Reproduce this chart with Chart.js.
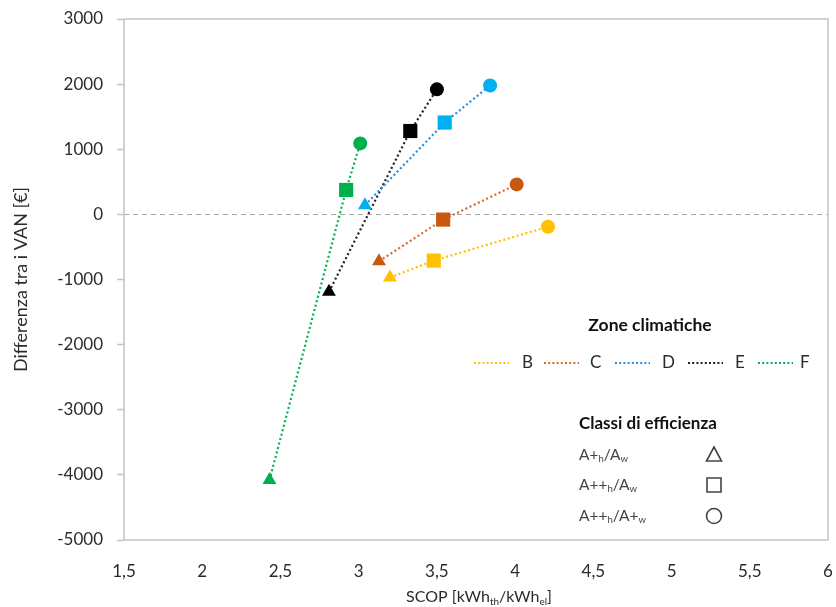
<!DOCTYPE html>
<html>
<head>
<meta charset="utf-8">
<script src="https://cdn.jsdelivr.net/npm/chart.js@4.4.1/dist/chart.umd.min.js"></script>
<style>
  html, body { margin: 0; padding: 0; background: #fff; }
  #wrap { width: 836px; height: 607px; position: relative; }
</style>
</head>
<body>
<div id="wrap"><canvas id="grafico"></canvas></div>
<script>
// ===== Dati =====
const zone = ['B', 'C', 'D', 'E', 'F'];
const coloriMarker = ['#FFC000', '#C9580F', '#00B0F0', '#000000', '#00B050'];
const coloriLinea = ['#FFC000', '#D9692A', '#2E8AD8', '#222222', '#00B050'];

// ordine dei punti: A+h/Aw, A++h/Aw, A++h/A+w
const scopB = [3.20, 3.48, 4.21];
const vanB  = [-970, -710, -190];
const scopC = [3.13, 3.54, 4.01];
const vanC  = [-720, -80, 460];
const scopD = [3.04, 3.55, 3.84];
const vanD  = [140, 1410, 1980];
const scopE = [2.81, 3.33, 3.50];
const vanE  = [-1190, 1280, 1920];
const scopF = [2.43, 2.92, 3.01];
const vanF  = [-4080, 375, 1090];

const formeClasse = ['triangle', 'rect', 'circle'];
const raggiClasse = [8, 10, 7];
// etichette classi: [testo, pedice?]
const classiEtichette = [
    [['A+', 0], ['h', 1], ['/A', 0], ['w', 1]],
    [['A++', 0], ['h', 1], ['/A', 0], ['w', 1]],
    [['A++', 0], ['h', 1], ['/A+', 0], ['w', 1]]
];

const FONT = 'Lato, "Open Sans", sans-serif';
const TESTO = '#2b2b2b';

const serie = [[scopB, vanB], [scopC, vanC], [scopD, vanD], [scopE, vanE], [scopF, vanF]];

const datasets = serie.map(([xs, ys], i) => ({
    label: zone[i],
    data: xs.map((x, j) => ({ x, y: ys[j] })),
    showLine: true,
    borderColor: coloriLinea[i],
    borderWidth: 2.2,
    borderDash: [2, 2.6],
    pointStyle: formeClasse,
    pointRadius: raggiClasse,
    pointBackgroundColor: coloriMarker[i],
    pointBorderColor: coloriMarker[i],
    pointBorderWidth: 0,
    pointHoverRadius: raggiClasse
}));

// testo con pedici, partendo da x; ritorna la larghezza
function testoPedici(ctx, parti, x, y, size, peso) {
    let cx = x;
    parti.forEach(([t, sub]) => {
        const s = sub ? size * 0.62 : size;
        ctx.font = `${peso || ''} ${s}px ${FONT}`;
        ctx.fillText(t, cx, sub ? y + size * 0.28 : y);
        cx += ctx.measureText(t).width;
    });
    return cx - x;
}

function larghezzaPedici(ctx, parti, size) {
    let w = 0;
    parti.forEach(([t, sub]) => {
        ctx.font = `${sub ? size * 0.62 : size}px ${FONT}`;
        w += ctx.measureText(t).width;
    });
    return w;
}

// ===== Plugin: cornice, linea dello zero, titoli assi, legenda =====
const decorazioni = {
    id: 'decorazioni',
    beforeDatasetsDraw(chart) {
        const { ctx, chartArea: ca, scales } = chart;
        const y0 = scales.y.getPixelForValue(0);
        ctx.save();
        ctx.strokeStyle = '#a9a9a9';
        ctx.lineWidth = 1;
        ctx.setLineDash([5, 4]);
        ctx.beginPath();
        ctx.moveTo(ca.left, Math.round(y0) + 0.5);
        ctx.lineTo(ca.right, Math.round(y0) + 0.5);
        ctx.stroke();
        ctx.setLineDash([]);
        ctx.strokeStyle = '#c4c4c4';
        ctx.lineWidth = 1.5;
        ctx.strokeRect(ca.left, ca.top, ca.right - ca.left, ca.bottom - ca.top);
        ctx.restore();
    },
    afterDraw(chart) {
        const { ctx, chartArea: ca } = chart;
        ctx.save();
        ctx.fillStyle = TESTO;
        ctx.textBaseline = 'middle';

        // titolo asse y
        ctx.save();
        ctx.translate(21, (ca.top + ca.bottom) / 2);
        ctx.rotate(-Math.PI / 2);
        ctx.textAlign = 'center';
        ctx.font = `18px ${FONT}`;
        ctx.fillText('Differenza tra i VAN [€]', 0, 0);
        ctx.restore();

        // titolo asse x
        const titoloX = [['SCOP [kWh', 0], ['th', 1], ['/kWh', 0], ['el', 1], [']', 0]];
        const wx = larghezzaPedici(ctx, titoloX, 16);
        ctx.textAlign = 'left';
        testoPedici(ctx, titoloX, (ca.left + ca.right) / 2 - wx / 2 + 3, 597, 16);

        // legenda zone climatiche
        ctx.textAlign = 'center';
        ctx.font = `bold 17.5px ${FONT}`;
        ctx.fillStyle = '#111';
        ctx.fillText('Zone climatiche', 650, 325);

        const xLinea = [474, 544, 615, 688, 758];
        const xLettera = [522, 590, 662, 735, 800];
        const yRiga = 363;
        zone.forEach((z, i) => {
            ctx.strokeStyle = coloriLinea[i];
            ctx.lineWidth = 2;
            ctx.setLineDash([2, 2.2]);
            ctx.beginPath();
            ctx.moveTo(xLinea[i], yRiga);
            ctx.lineTo(xLinea[i] + 35, yRiga);
            ctx.stroke();
            ctx.setLineDash([]);
            ctx.fillStyle = TESTO;
            ctx.textAlign = 'left';
            ctx.font = `17px ${FONT}`;
            ctx.fillText(z, xLettera[i], yRiga);
        });

        // legenda classi di efficienza
        ctx.font = `bold 17px ${FONT}`;
        ctx.fillStyle = '#111';
        ctx.fillText('Classi di efficienza', 579, 424);

        const yClassi = [455, 485, 516];
        const xForma = 714;
        ctx.strokeStyle = '#444';
        ctx.lineWidth = 1.6;
        classiEtichette.forEach((parti, i) => {
            ctx.fillStyle = '#444';
            testoPedici(ctx, parti, 579, yClassi[i], 15.5);
            const y = yClassi[i];
            ctx.beginPath();
            if (formeClasse[i] === 'triangle') {
                ctx.moveTo(xForma, y - 8);
                ctx.lineTo(xForma + 7.5, y + 6);
                ctx.lineTo(xForma - 7.5, y + 6);
                ctx.closePath();
            } else if (formeClasse[i] === 'rect') {
                ctx.rect(xForma - 7, y - 7, 14, 14);
            } else {
                ctx.arc(xForma, y, 7.5, 0, Math.PI * 2);
            }
            ctx.stroke();
        });
        ctx.restore();
    }
};

new Chart(document.getElementById('grafico'), {
    type: 'scatter',
    data: { datasets },
    plugins: [decorazioni],
    options: {
        responsive: true,
        maintainAspectRatio: false,
        animation: false,
        layout: { padding: { top: 19, right: 7, left: 0, bottom: 0 } },
        plugins: {
            legend: { display: false },
            tooltip: { enabled: false }
        },
        scales: {
            x: {
                type: 'linear',
                min: 1.5,
                max: 6,
                afterFit: s => {
                    s.height = 67;
                    s.paddingLeft = 0;
                    s.paddingRight = 0;
                },
                ticks: {
                    stepSize: 0.5,
                    padding: 13,
                    color: TESTO,
                    font: { family: FONT, size: 17 },
                    callback: v => String(v).replace('.', ',')
                },
                grid: { display: false },
                border: { display: false }
            },
            y: {
                min: -5000,
                max: 3000,
                afterFit: s => {
                    s.width = 124;
                    s.paddingTop = 0;
                    s.paddingBottom = 0;
                },
                ticks: {
                    stepSize: 1000,
                    padding: 14,
                    color: TESTO,
                    font: { family: FONT, size: 17 },
                    callback: v => String(v)
                },
                grid: {
                    drawOnChartArea: false,
                    drawTicks: true,
                    tickLength: 7,
                    tickColor: '#c4c4c4',
                    tickWidth: 1.5
                },
                border: { display: false }
            }
        }
    }
});
</script>
</body>
</html>
